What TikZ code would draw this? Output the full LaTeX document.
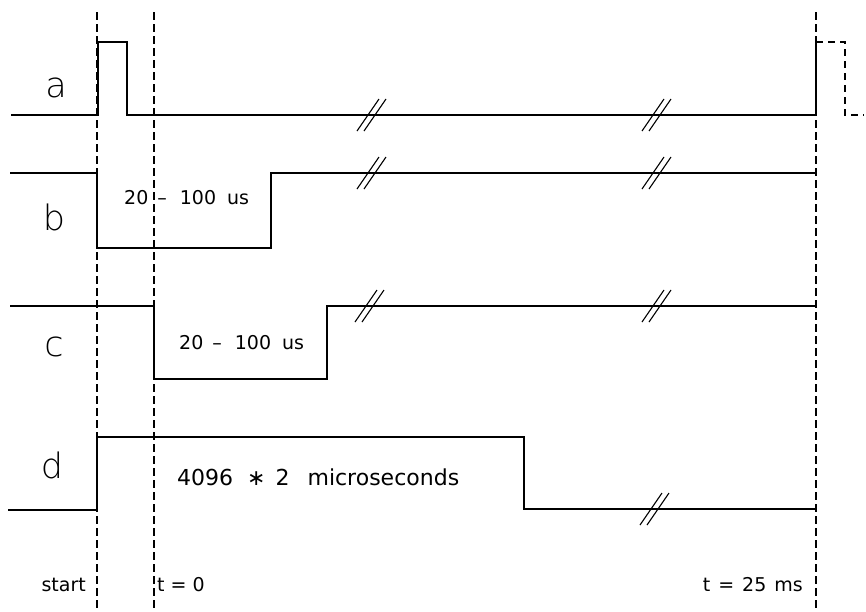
\documentclass[tikz,border=0pt]{standalone}
\usepackage{fontspec}
\setmainfont{DejaVu Sans}
\newfontfamily\lightfont{DejaVu Sans ExtraLight}
\begin{document}
\begin{tikzpicture}[x=1pt,y=-1pt,
  sig/.style={line width=1.4pt,line join=miter},
  sigdash/.style={line width=1.4pt,dash pattern=on 7pt off 5pt},
  guide/.style={line width=1.2pt,dash pattern=on 8pt off 4pt},
  lbl/.style={inner sep=0pt,font=\lightfont\fontsize{35}{38}\selectfont},
  txt/.style={inner sep=0pt,font=\fontsize{19}{21}\selectfont},
  bigtxt/.style={inner sep=0pt,font=\fontsize{22}{24}\selectfont},
  brk/.pic={\draw[line width=1.1pt] (-14,16) -- (8,-16);
            \draw[line width=1.1pt] (-7,16) -- (15,-16);}
]
\useasboundingbox (0,0) rectangle (866,611);

% guide lines
\draw[guide] (97,12) -- (97,611);
\draw[guide] (154,12) -- (154,611);
\draw[guide] (816,12) -- (816,611);

% signal a
\draw[sig] (11,115) -- (98,115) -- (98,42) -- (127,42) -- (127,115) -- (816,115) -- (816,42);
\draw[sigdash] (816,42) -- (845,42) -- (845,115) -- (864,115);
% signal b
\draw[sig] (10,173) -- (97,173) -- (97,248) -- (271,248) -- (271,173) -- (816,173);
% signal c
\draw[sig] (10,306) -- (154,306) -- (154,379) -- (327,379) -- (327,306) -- (816,306);
% signal d
\draw[sig] (8,510) -- (97,510) -- (97,437) -- (524,437) -- (524,509) -- (816,509);

% break marks
\pic at (371,115) {brk};
\pic at (656,115) {brk};
\pic at (371,173) {brk};
\pic at (656,173) {brk};
\pic at (369,306) {brk};
\pic at (656,306) {brk};
\pic at (654,509) {brk};

% labels
\node[lbl] (la) at (56,88) {a};
\node[lbl] (lb) at (54,217) {b};
\node[lbl] (lc) at (54,347) {c};
\node[lbl] (ld) at (52,465) {d};

\node[txt,anchor=west] (tb) at (124,198) {20\hspace{9pt}–\hspace{13pt}100\hspace{11pt}us};
\node[txt,anchor=west] (tc) at (179,343) {20\hspace{9pt}–\hspace{13pt}100\hspace{11pt}us};
\node[bigtxt,anchor=west] (td) at (177,477) {4096\hspace{14pt}∗\hspace{10pt}2\hspace{18pt}microseconds};

\node[txt,anchor=base east] (tstart) at (86,591) {start};
\node[txt,anchor=base west] (tzero) at (157,591) {t\hspace{6pt}=\hspace{6pt}0};
\node[txt,anchor=base east] (tend) at (803,591) {t\hspace{8pt}=\hspace{8pt}25\hspace{8pt}ms};
\end{tikzpicture}
\end{document}
